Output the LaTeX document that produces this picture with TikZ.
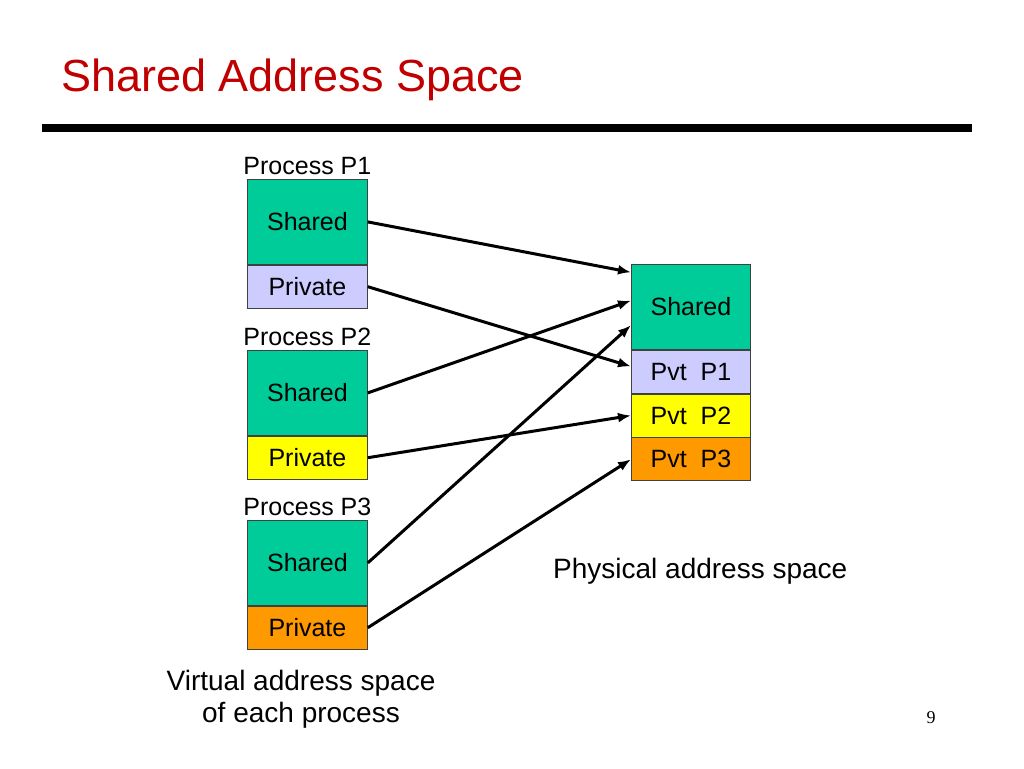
\documentclass[tikz,border=0pt]{standalone}
\usepackage{fontspec}
\setmainfont{Liberation Sans}
\newfontfamily\pagenumfont{Liberation Serif}
\usetikzlibrary{positioning,arrows.meta}
\definecolor{sharedgreen}{RGB}{0,204,153}
\definecolor{pvtlavender}{RGB}{204,204,255}
\definecolor{pvtyellow}{RGB}{255,255,0}
\definecolor{pvtorange}{RGB}{255,153,0}
\definecolor{titlered}{RGB}{192,0,0}

\begin{document}
\begin{tikzpicture}[
    x=1pt, y=-1pt,
    seg/.style={draw=black!75, line width=0.8pt, inner sep=0pt, minimum width=120pt, font=\fontsize{25}{30}\selectfont},
    sharedseg/.style={seg, fill=sharedgreen, minimum height=85pt},
    pvtseg/.style={seg, fill=#1, minimum height=43pt},
    proclabel/.style={inner sep=0pt, font=\fontsize{25}{30}\selectfont},
    caption/.style={inner sep=0pt, align=center, font=\fontsize{28}{32}\selectfont},
    mapto/.style={-{Latex[length=13pt,width=10pt]}, line width=3pt}
]
\useasboundingbox (0,0) rectangle (1024,768);

% === Title and rule ===
\node[anchor=base west, inner sep=0pt, text=titlered, font=\fontsize{45}{50}\selectfont] (title) at (61,91) {Shared Address Space};
\draw[line width=8pt] (42,128) -- (972,128);

% === Virtual address spaces ===
\node[sharedseg, anchor=north west] (p1shared) at (247,179) {Shared};
\node[pvtseg=pvtlavender, below=0pt of p1shared] (p1private) {Private};
\node[proclabel, above=4pt of p1shared] (p1label) {Process P1};

\node[sharedseg, anchor=north west] (p2shared) at (247,350) {Shared};
\node[pvtseg=pvtyellow, below=0pt of p2shared] (p2private) {Private};
\node[proclabel, above=4pt of p2shared] (p2label) {Process P2};

\node[sharedseg, anchor=north west] (p3shared) at (247,520) {Shared};
\node[pvtseg=pvtorange, below=0pt of p3shared] (p3private) {Private};
\node[proclabel, above=4pt of p3shared] (p3label) {Process P3};

\node[caption, anchor=north] (virtcap) at (301,669.5) {Virtual address space\\of each process};

% === Physical address space ===
\node[sharedseg, anchor=north west, minimum width=119pt] (physshared) at (631,264) {Shared};
\node[pvtseg=pvtlavender, minimum width=119pt, below=0pt of physshared] (pvtone) {Pvt\ \ P1};
\node[pvtseg=pvtyellow, minimum width=119pt, below=0pt of pvtone] (pvttwo) {Pvt\ \ P2};
\node[pvtseg=pvtorange, minimum width=119pt, below=0pt of pvttwo] (pvtthree) {Pvt\ \ P3};

\node[caption, anchor=base west] (physcap) at (553,578) {Physical address space};

% === Mappings ===
\draw[mapto] (p1shared.east) -- (physshared.150);
\draw[mapto] (p1private.east) -- (pvtone.175);
\draw[mapto] (p2shared.east) -- (physshared.174);
\draw[mapto] (p2private.east) -- (pvttwo.west);
\draw[mapto] (p3shared.east) -- (physshared.197);
\draw[mapto] (p3private.east) -- (pvtthree.west);

\node[anchor=base, inner sep=0pt, font=\pagenumfont\fontsize{18}{20}\selectfont] (pagenum) at (931,723) {9};
\end{tikzpicture}
\end{document}
